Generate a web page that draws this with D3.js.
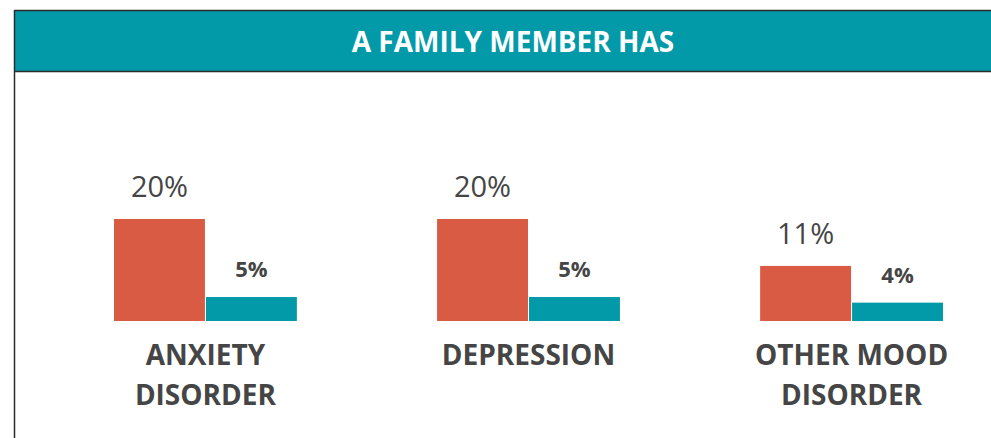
<!DOCTYPE html>
<html>
<head>
<meta charset="utf-8">
<script src="https://cdn.jsdelivr.net/npm/d3@7"></script>
<style>
  body { margin: 0; background: #fff; }
  svg { display: block; font-family: "Open Sans", sans-serif; }
</style>
</head>
<body>
<svg id="chart" width="991" height="438"></svg>
<script>
var title = 'A FAMILY MEMBER HAS';
var categories = ['ANXIETY DISORDER', 'DEPRESSION', 'OTHER MOOD DISORDER'];
var categoryLines = [['ANXIETY', 'DISORDER'], ['DEPRESSION'], ['OTHER MOOD', 'DISORDER']];
var seriesKeys = ['first', 'second'];
var firstValues = [20, 20, 10.8];
var secondValues = [4.7, 4.7, 3.6];
var firstLabels = ['20%', '20%', '11%'];
var secondLabels = ['5%', '5%', '4%'];

var width = 991, height = 438;
var colors = { first: '#d95b43', second: '#029aa8' };
var textColor = '#454545';

var svg = d3.select('#chart');

// header band
svg.append('rect')
    .attr('x', 15).attr('y', 10)
    .attr('width', width - 15).attr('height', 61)
    .attr('fill', '#029aa8');
svg.append('line')
    .attr('x1', 14).attr('x2', width).attr('y1', 10.5).attr('y2', 10.5)
    .attr('stroke', '#2b2b2b').attr('stroke-width', 1.5);
svg.append('line')
    .attr('x1', 14).attr('x2', width).attr('y1', 71.5).attr('y2', 71.5)
    .attr('stroke', '#2b2b2b').attr('stroke-width', 1.5);
svg.append('line')
    .attr('x1', 14.5).attr('x2', 14.5).attr('y1', 10).attr('y2', height)
    .attr('stroke', '#2b2b2b').attr('stroke-width', 1.5);

svg.append('text')
    .attr('x', 513).attr('y', 52)
    .attr('text-anchor', 'middle')
    .attr('fill', '#fff')
    .style('font-weight', 700)
    .style('font-size', '28px')
    .text(title);

var x = d3.scaleBand()
    .domain(categories)
    .range([114, 943])
    .paddingInner(0.434)
    .paddingOuter(0);

var xs = d3.scaleBand()
    .domain(seriesKeys)
    .range([0, x.bandwidth()])
    .paddingInner(0.011);

var y = d3.scaleLinear()
    .domain([0, 20])
    .range([321, 219]);

var rows = categories.map(function(c, i) {
    return {
        cat: c,
        lines: categoryLines[i],
        bars: [
            { key: 'first', value: firstValues[i], label: firstLabels[i] },
            { key: 'second', value: secondValues[i], label: secondLabels[i] }
        ]
    };
});

var group = svg.selectAll('g.group').data(rows).enter().append('g')
    .attr('class', 'group')
    .attr('transform', function(d) { return 'translate(' + x(d.cat) + ',0)'; });

group.selectAll('rect.bar').data(function(d) { return d.bars; }).enter().append('rect')
    .attr('class', 'bar')
    .attr('x', function(d) { return xs(d.key); })
    .attr('y', function(d) { return y(d.value); })
    .attr('width', xs.bandwidth())
    .attr('height', function(d) { return y(0) - y(d.value); })
    .attr('fill', function(d) { return colors[d.key]; });

group.selectAll('text.value').data(function(d) { return d.bars; }).enter().append('text')
    .attr('class', 'value')
    .attr('x', function(d) { return xs(d.key) + xs.bandwidth() / 2; })
    .attr('y', function(d) { return y(d.value) - (d.key === 'first' ? 22 : 20); })
    .attr('text-anchor', 'middle')
    .attr('fill', textColor)
    .style('font-weight', function(d) { return d.key === 'first' ? 400 : 700; })
    .style('font-size', function(d) { return d.key === 'first' ? '29px' : '22px'; })
    .text(function(d) { return d.label; });

group.append('text')
    .attr('class', 'cat')
    .attr('x', x.bandwidth() / 2)
    .attr('y', 365)
    .attr('text-anchor', 'middle')
    .attr('fill', textColor)
    .style('font-weight', 700)
    .style('font-size', '28px')
    .selectAll('tspan').data(function(d) { return d.lines; }).enter().append('tspan')
    .attr('x', x.bandwidth() / 2)
    .attr('dy', function(d, i) { return i === 0 ? 0 : 40; })
    .text(function(d) { return d; });
</script>
</body>
</html>
